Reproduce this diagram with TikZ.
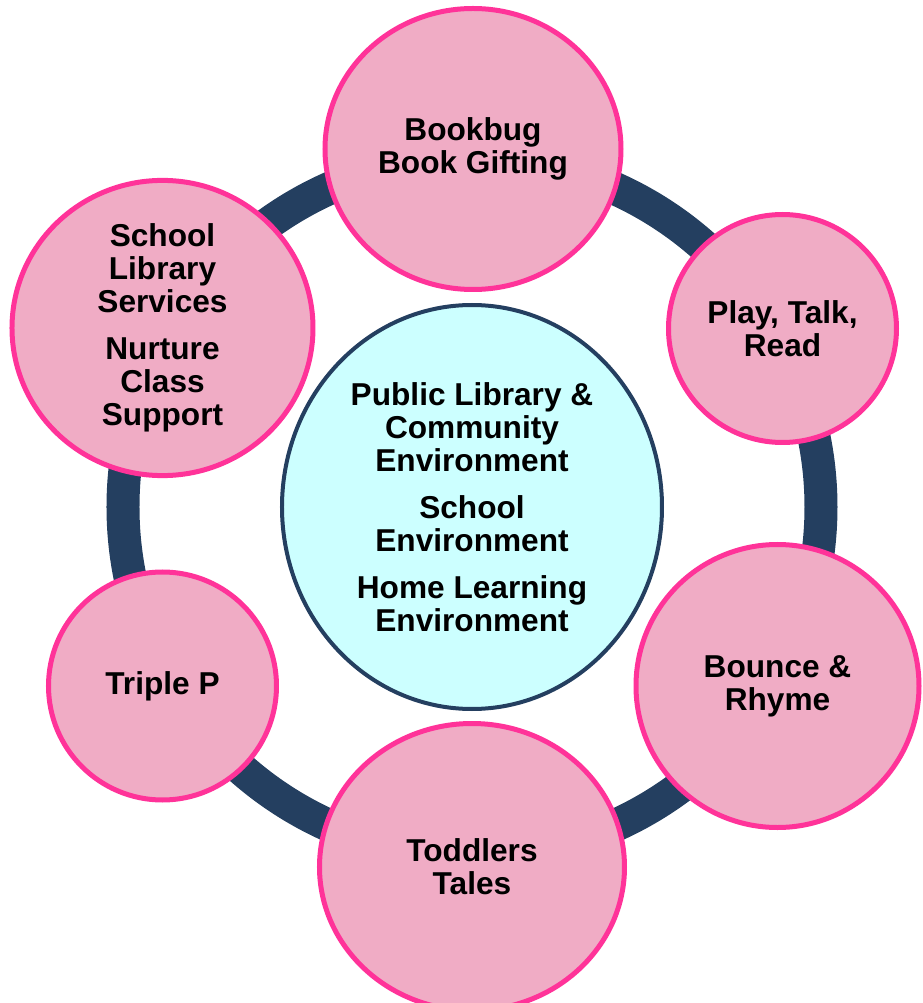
\documentclass[tikz,border=0pt]{standalone}
\usepackage{fontspec}
\setmainfont{Liberation Sans}
\usetikzlibrary{shapes.geometric}
\definecolor{ringblue}{HTML}{243F60}
\definecolor{petalfill}{HTML}{F0ACC5}
\definecolor{petaledge}{HTML}{FF3399}
\definecolor{hubfill}{HTML}{CCFFFF}
\begin{document}
\begin{tikzpicture}[
  txt/.style={align=center,inner sep=0pt,font=\bfseries\fontsize{18}{18.8}\selectfont},
  petal/.style={ellipse,txt,draw=petaledge,fill=petalfill,line width=0.1cm},
  hub/.style={ellipse,txt,draw=ringblue,fill=hubfill,line width=0.08cm}]
\useasboundingbox (-9.44,-9.92) rectangle (9.0,10.14);
\pgfmathsetmacro{\rr}{6.98}
\draw[ringblue,line width=0.66cm](0,0)circle(\rr);
\node[hub,minimum width=7.6cm,minimum height=8.08cm](env)at(0,0){Public Library \&\\Community\\Environment\\[8pt]School\\Environment\\[8pt]Home Learning\\Environment};
\node[petal,minimum width=5.92cm,minimum height=5.62cm](bookbug)at(0.02,7.16){Bookbug\\Book Gifting};
\node[petal,minimum width=4.56cm,minimum height=4.56cm](ptr)at(6.21,3.57){Play, Talk,\\Read};
\node[petal,minimum width=5.66cm,minimum height=5.66cm](bounce)at(6.11,-3.58){Bounce \&\\Rhyme};
\node[petal,minimum width=6.1cm,minimum height=5.74cm](toddlers)at(0,-7.2){Toddlers\\Tales};
\node[petal,minimum width=4.56cm,minimum height=4.56cm](triplep)at(-6.19,-3.58){Triple P};
\node[petal,minimum width=6.02cm,minimum height=5.7cm](schoollib)at(-6.19,3.58){School\\Library\\Services\\[8pt]Nurture\\Class\\Support};
\end{tikzpicture}
\end{document}
